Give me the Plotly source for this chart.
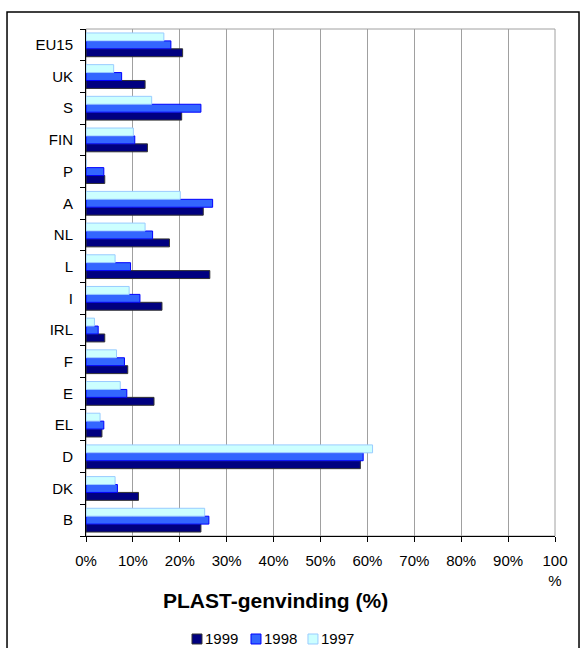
import plotly.graph_objects as go

categories = ["B", "DK", "D", "EL", "E", "F", "IRL", "I", "L", "NL", "A", "P", "FIN", "S", "UK", "EU15"]
v1999 = [24.5, 11.2, 58.5, 3.4, 14.5, 8.9, 4.0, 16.2, 26.4, 17.8, 25.0, 4.0, 13.1, 20.4, 12.6, 20.6]
v1998 = [26.2, 6.7, 59.1, 3.8, 8.7, 8.2, 2.6, 11.5, 9.5, 14.2, 27.0, 3.8, 10.4, 24.5, 7.6, 18.1]
v1997 = [25.3, 6.2, 61.1, 3.0, 7.3, 6.5, 1.8, 9.2, 6.2, 12.6, 20.1, 0.0, 10.1, 14.0, 5.9, 16.6]
tick_vals = [0, 10, 20, 30, 40, 50, 60, 70, 80, 90, 100]
tick_text = ["0%", "10%", "20%", "30%", "40%", "50%", "60%", "70%", "80%", "90%", "100<br>%"]
series_names = ["1999", "1998", "1997"]

FONT = "Liberation Sans, Arial, sans-serif"
fills = ["#000080", "#3366FF", "#CCFFFF"]
edges = ["#333333", "#0000FF", "#99CCFF"]

fig = go.Figure()
for name, vals, fill, edge in zip(series_names, [v1999, v1998, v1997], fills, edges):
    fig.add_trace(go.Bar(
        y=categories, x=vals, name=name, orientation="h",
        marker=dict(color=fill, line=dict(color=edge, width=1)),
    ))

# custom compact legend (square + label), positioned in paper coordinates
legend_sq_x = [0.226, 0.3518, 0.4733]
sq_w = 0.0213
shapes = [
    dict(type="rect", xref="paper", yref="paper", x0=0, x1=1, y0=0, y1=1,
         line=dict(color="#A0A0A0", width=1), layer="below"),
    dict(type="rect", xref="paper", yref="paper", x0=-0.1684, x1=1.0512, y0=-0.25, y1=1.0335,
         line=dict(color="black", width=1.5)),
]
annotations = [
    dict(text="<b>PLAST-genvinding (%)</b>", xref="paper", yref="paper",
         x=0.405, y=-0.128, xanchor="center", yanchor="middle",
         showarrow=False, font=dict(size=21, family=FONT, color="black")),
]
for name, x0, fill, edge in zip(series_names, legend_sq_x, fills, edges):
    shapes.append(dict(type="rect", xref="paper", yref="paper",
                       x0=x0, x1=x0 + sq_w, y0=-0.2130, y1=-0.1933,
                       fillcolor=fill, line=dict(color=edge, width=1)))
    annotations.append(dict(text=name, xref="paper", yref="paper",
                            x=x0 + sq_w + 0.002, y=-0.2031, xanchor="left", yanchor="middle",
                            showarrow=False, font=dict(size=15, family=FONT, color="black")))

fig.update_layout(
    width=580, height=648,
    margin=dict(l=86, r=25, t=29, b=112),
    paper_bgcolor="white", plot_bgcolor="white",
    barmode="group", bargap=0.25, bargroupgap=0,
    font=dict(family=FONT, size=15, color="black"),
    showlegend=False,
    xaxis=dict(range=[0, 100], tickvals=tick_vals, ticktext=tick_text,
               showgrid=True, gridcolor="#A0A0A0", gridwidth=1,
               showline=True, linecolor="black", linewidth=1,
               ticks="outside", ticklen=5, tickcolor="black", ticklabelstandoff=6,
               tickfont=dict(size=15), zeroline=False, fixedrange=True),
    yaxis=dict(type="category", categoryorder="array", categoryarray=categories,
               showgrid=False, showline=True, linecolor="black", linewidth=1,
               ticks="outside", ticklen=5, tickcolor="black", tickson="boundaries",
               ticklabelstandoff=9,
               tickfont=dict(size=15), zeroline=False, fixedrange=True),
    shapes=shapes,
    annotations=annotations,
)

fig.write_html("out.html", config={"displayModeBar": False},
               post_script="document.body.style.margin='0px';")
